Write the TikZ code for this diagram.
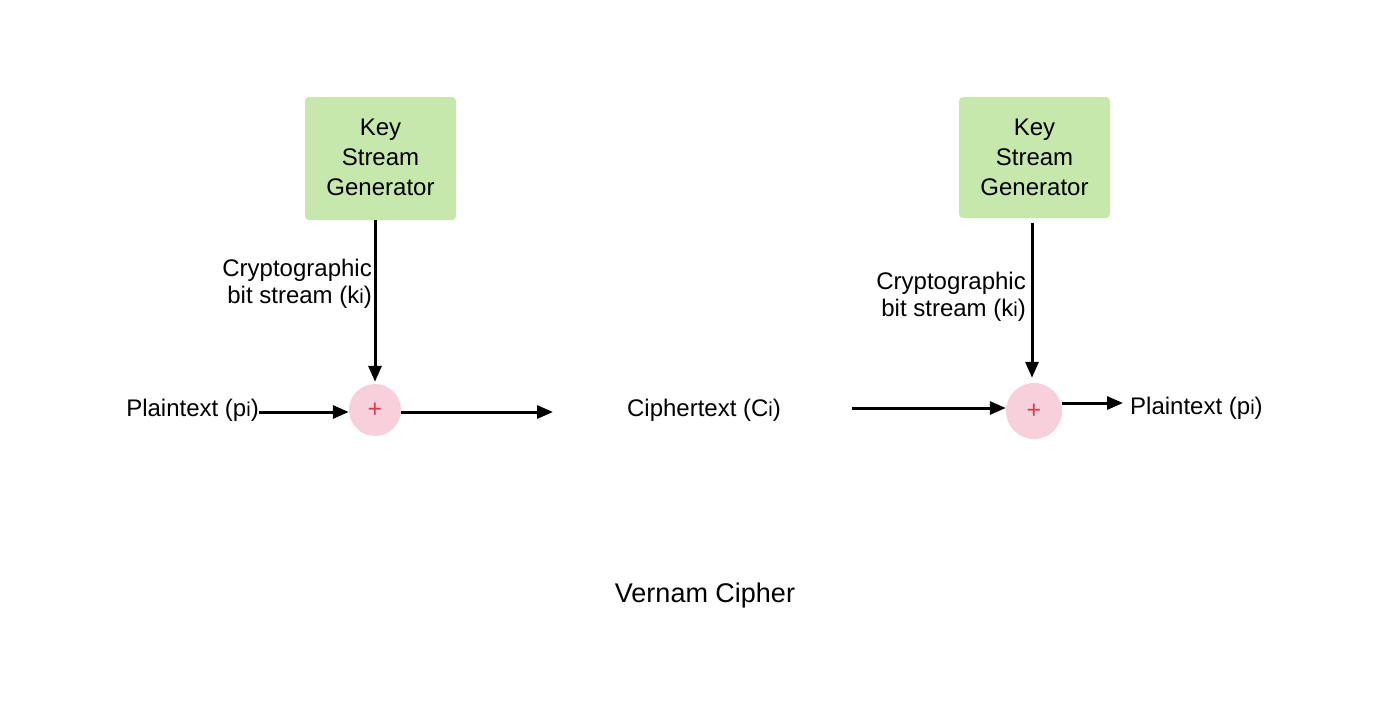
\documentclass[tikz,border=0pt]{standalone}
\usepackage{fontspec}
\setmainfont{Liberation Sans}
\usetikzlibrary{arrows.meta}
\definecolor{keygreen}{RGB}{199,232,172}
\definecolor{xorpink}{RGB}{248,208,220}
\definecolor{plusred}{RGB}{214,60,80}
\newcommand{\smi}{{\fontsize{20}{20}\selectfont i}}
\tikzset{
  txt/.style={inner sep=0pt, font=\fontsize{24}{27}\selectfont},
  keybox/.style={fill=keygreen, rounded corners=4pt, minimum width=151pt, inner sep=0pt, align=center, font=\fontsize{24}{30}\selectfont},
  xor/.style={circle, fill=xorpink, inner sep=0pt, text=plusred, font=\fontsize{25}{25}\selectfont},
  conn/.style={line width=3pt, -{Triangle[length=16pt,width=13pt]}},
}
\begin{document}
\begin{tikzpicture}[x=1pt,y=-1pt]
\useasboundingbox (0,0) rectangle (1392,707);
% left side
\node[keybox, minimum height=123pt, text depth=2pt] (kg1) at (380.5,158.5) {Key\\Stream\\Generator};
\node[xor, minimum size=52pt] (x1) at (375,410) {+};
\node[txt, anchor=east] (p1) at (259,410) {Plaintext (p\smi)};
\node[txt, anchor=east, align=right] (l1) at (372,284) {Cryptographic\\bit stream (k\smi)};
\coordinate (o1) at (553,412);
\draw[conn, shorten >=2pt] (kg1.south -| x1) -- (x1.north);
\draw[conn] (p1.east |- 0,412) -- (x1.west |- 0,412);
\draw[conn] (x1.east |- 0,412) -- (o1);
% middle
\node[txt] (ct) at (704,410) {Ciphertext (C\smi)};
\node[txt, font=\fontsize{27}{27}\selectfont] (title) at (705,596) {Vernam Cipher};
% right side
\node[keybox, minimum height=121pt] (kg2) at (1034.5,157.5) {Key\\Stream\\Generator};
\node[xor, minimum size=56pt] (x2) at (1034,411) {+};
\coordinate (i2) at (852,408);
\node[txt, anchor=west] (p2) at (1130,408) {Plaintext (p\smi)};
\node[txt, anchor=east, align=right] (l2) at (1026,297) {Cryptographic\\bit stream (k\smi)};
\draw[conn, shorten <=5pt, shorten >=5pt] (kg2.south -| 1032,0) -- (x2.north -| 1032,0);
\draw[conn] (i2) -- (x2.west |- i2);
\draw[conn, shorten >=7pt] (x2.east |- 0,403) -- (p2.west |- 0,403);
\end{tikzpicture}
\end{document}
